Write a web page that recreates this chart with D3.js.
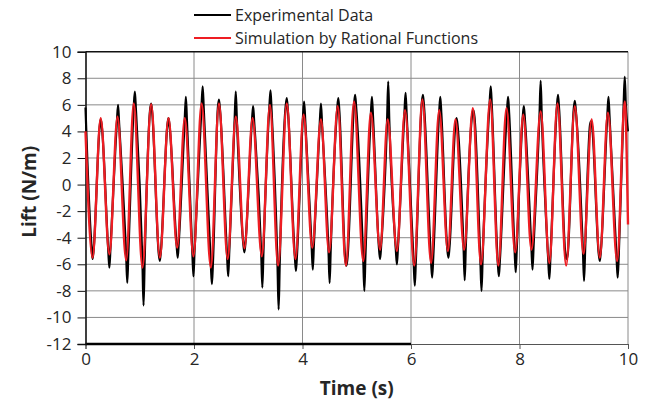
<!DOCTYPE html>
<html>
<head>
<meta charset="utf-8">
<script src="https://cdn.jsdelivr.net/npm/d3@7"></script>
<style>
  body { margin: 0; background: #fff; }
  text { font-family: "Open Sans", Lato, sans-serif; fill: #262626; }
</style>
</head>
<body>
<div id="viz"></div>
<script>
// axis ticks
const timeTicks = [0, 2, 4, 6, 8, 10];
const liftTicks = [-12, -10, -8, -6, -4, -2, 0, 2, 4, 6, 8, 10];

// simulation: extremes [time (s), lift (N/m)]
const simPoints = [
  [0.00, 4.0], [0.13, -5.5], [0.28, 5.0], [0.44, -5.25], [0.59, 5.1], [0.75, -5.7],
  [0.89, 6.1], [1.05, -6.25], [1.21, 6.05], [1.37, -5.5], [1.53, 5.0], [1.69, -4.75],
  [1.83, 5.0], [1.99, -5.4], [2.14, 6.1], [2.31, -6.25], [2.46, 6.1], [2.62, -5.6],
  [2.77, 5.1], [2.93, -4.8], [3.08, 5.0], [3.25, -5.4], [3.40, 6.0], [3.55, -6.1],
  [3.71, 6.1], [3.87, -5.6], [4.02, 5.25], [4.18, -4.75], [4.34, 4.9], [4.49, -5.1],
  [4.65, 5.9], [4.80, -6.1], [4.95, 6.25], [5.12, -5.75], [5.26, 5.4], [5.43, -4.9],
  [5.57, 4.9], [5.74, -5.0], [5.89, 5.6], [6.06, -6.1], [6.21, 6.4], [6.37, -5.9],
  [6.52, 5.6], [6.68, -5.0], [6.82, 4.9], [6.98, -4.9], [7.14, 5.75], [7.29, -6.0],
  [7.46, 6.4], [7.61, -6.1], [7.76, 5.75], [7.92, -5.1], [8.07, 5.25], [8.22, -4.9],
  [8.39, 5.5], [8.55, -5.9], [8.70, 6.1], [8.86, -6.1], [9.02, 5.9], [9.18, -5.2],
  [9.33, 4.9], [9.48, -5.5], [9.63, 5.4], [9.80, -5.75], [9.94, 6.25], [10.0, -3.0]
];

const expPoints = [
  [0.00, 5.8], [0.02, 3.4],
  [0.11, -4.6], [0.13, -5.6], [0.15, -4.9],
  [0.26, 4.3], [0.28, 4.9], [0.30, 4.4],
  [0.42, -5.0], [0.44, -6.25], [0.46, -4.8],
  [0.58, 4.8], [0.60, 6.0], [0.62, 4.6],
  [0.75, -5.4], [0.77, -7.4], [0.79, -5.2],
  [0.89, 5.9], [0.91, 7.0], [0.93, 5.6],
  [1.05, -6.0], [1.07, -9.1], [1.09, -5.8],
  [1.19, 5.6], [1.21, 6.1], [1.23, 5.4],
  [1.35, -5.2], [1.37, -5.75], [1.39, -5.0],
  [1.51, 4.5], [1.53, 5.0], [1.55, 4.4],
  [1.68, -4.6], [1.70, -5.5], [1.72, -4.3],
  [1.83, 5.0], [1.85, 6.6], [1.87, 4.8],
  [1.97, -5.2], [1.99, -6.9], [2.01, -5.0],
  [2.14, 6.0], [2.16, 7.4], [2.18, 5.7],
  [2.31, -6.0], [2.33, -7.5], [2.35, -5.8],
  [2.44, 5.8], [2.46, 6.4], [2.48, 5.6],
  [2.61, -5.4], [2.63, -6.9], [2.65, -5.1],
  [2.75, 5.0], [2.77, 7.0], [2.79, 4.9],
  [2.91, -4.5], [2.93, -5.1], [2.95, -4.3],
  [3.07, 4.9], [3.09, 5.9], [3.11, 4.7],
  [3.24, -5.3], [3.26, -7.75], [3.28, -5.1],
  [3.39, 5.9], [3.41, 7.1], [3.43, 5.6],
  [3.54, -6.2], [3.56, -9.4], [3.58, -6.0],
  [3.69, 5.9], [3.71, 6.5], [3.73, 5.6],
  [3.86, -5.5], [3.88, -6.5], [3.90, -5.2],
  [4.01, 5.2], [4.03, 6.25], [4.05, 4.9],
  [4.17, -4.8], [4.19, -6.4], [4.21, -4.5],
  [4.32, 4.8], [4.34, 6.1], [4.36, 4.6],
  [4.48, -5.1], [4.50, -7.4], [4.52, -4.9],
  [4.64, 5.7], [4.66, 6.5], [4.68, 5.5],
  [4.79, -5.7], [4.81, -6.1], [4.83, -5.5],
  [4.95, 6.0], [4.97, 6.75], [4.99, 5.8],
  [5.12, -5.7], [5.14, -8.0], [5.16, -5.4],
  [5.26, 5.3], [5.28, 6.6], [5.30, 5.1],
  [5.41, -4.8], [5.43, -5.6], [5.45, -4.6],
  [5.56, 5.0], [5.58, 7.75], [5.60, 4.8],
  [5.72, -4.9], [5.74, -6.0], [5.76, -4.7],
  [5.88, 5.5], [5.90, 6.9], [5.92, 5.3],
  [6.05, -6.0], [6.07, -7.6], [6.09, -5.7],
  [6.20, 6.2], [6.22, 6.75], [6.24, 5.9],
  [6.37, -5.8], [6.39, -7.0], [6.41, -5.5],
  [6.52, 5.5], [6.54, 6.6], [6.56, 5.3],
  [6.67, -4.9], [6.69, -5.5], [6.71, -4.7],
  [6.82, 4.6], [6.84, 5.0], [6.86, 4.4],
  [6.97, -4.9], [6.99, -7.2], [7.01, -4.7],
  [7.13, 5.3], [7.15, 5.6], [7.17, 5.1],
  [7.28, -5.9], [7.30, -8.0], [7.32, -5.6],
  [7.45, 6.2], [7.47, 7.4], [7.49, 5.9],
  [7.60, -5.9], [7.62, -6.9], [7.64, -5.6],
  [7.77, 5.6], [7.79, 6.6], [7.81, 5.3],
  [7.91, -5.0], [7.93, -6.6], [7.95, -4.8],
  [8.06, 5.1], [8.08, 5.9], [8.10, 4.9],
  [8.22, -4.8], [8.24, -6.4], [8.26, -4.6],
  [8.37, 5.4], [8.39, 7.8], [8.41, 5.2],
  [8.53, -5.7], [8.55, -7.1], [8.57, -5.5],
  [8.69, 5.9], [8.71, 6.75], [8.73, 5.7],
  [8.85, -5.4], [8.87, -5.6], [8.89, -5.2],
  [9.00, 5.7], [9.02, 6.3], [9.04, 5.5],
  [9.17, -5.1], [9.19, -7.25], [9.21, -4.9],
  [9.30, 4.5], [9.32, 4.75], [9.34, 4.3],
  [9.46, -5.2], [9.48, -5.75], [9.50, -5.0],
  [9.62, 5.3], [9.64, 6.6], [9.66, 5.1],
  [9.79, -5.6], [9.81, -7.0], [9.83, -5.3],
  [9.92, 6.1], [9.94, 8.1], [9.96, 6.0],
  [10.0, 4.0]
];

const seriesNames = ["Experimental Data", "Simulation by Rational Functions"];
const seriesColors = ["#000000", "#ee1d23"];

const W = 653, H = 403;
const margin = {left: 85.5, right: 25, top: 51.7, bottom: 59};
const width = W - margin.left - margin.right;
const height = H - margin.top - margin.bottom;

let svg = d3.select("#viz")
  .append("svg")
    .attr("width", W)
    .attr("height", H);

let g = svg.append("g")
  .attr("transform", "translate(" + margin.left + "," + margin.top + ")");

let xScale = d3.scaleLinear().domain([0, 10]).range([0, width]);
let yScale = d3.scaleLinear().domain([-12, 10]).range([height, 0]);

// gridlines
g.append("g")
  .selectAll("line")
  .data(liftTicks.filter(d => d > -12 && d < 10))
  .join("line")
    .attr("x1", 0).attr("x2", width)
    .attr("y1", d => yScale(d)).attr("y2", d => yScale(d))
    .attr("stroke", "#8a8a8a").attr("stroke-width", 1);
g.append("g")
  .selectAll("line")
  .data(timeTicks.filter(d => d > 0))
  .join("line")
    .attr("x1", d => xScale(d)).attr("x2", d => xScale(d))
    .attr("y1", 0).attr("y2", height)
    .attr("stroke", "#8a8a8a").attr("stroke-width", 1);

// top border
g.append("line")
  .attr("x1", 0).attr("x2", width)
  .attr("y1", yScale(10)).attr("y2", yScale(10))
  .attr("stroke", "#111").attr("stroke-width", 1.6);

// X axis
let xAxisG = g.append("g")
  .attr("transform", "translate(0," + height + ")")
  .call(d3.axisBottom(xScale).tickValues(timeTicks).tickSize(5).tickPadding(4));
xAxisG.select(".domain").attr("stroke", "#555");
xAxisG.selectAll(".tick line").attr("stroke", "#555");
xAxisG.selectAll("text").style("font-size", "17px").attr("fill", "#262626");

// thick black segment along the bottom of the plot
g.append("line")
  .attr("x1", xScale(0)).attr("x2", xScale(6))
  .attr("y1", yScale(-12)).attr("y2", yScale(-12))
  .attr("stroke", "#000").attr("stroke-width", 2.5);

// Y axis (plain hyphen for negatives, as in the original)
let yAxisG = g.append("g")
  .call(d3.axisLeft(yScale).tickValues(liftTicks).tickFormat(d => String(d))
    .tickSize(8).tickPadding(6));
yAxisG.select(".domain").attr("stroke", "#111").attr("stroke-width", 1.6);
yAxisG.selectAll(".tick line").attr("stroke", "#111");
yAxisG.selectAll("text").style("font-size", "17px").attr("fill", "#262626");

// lines
let line = d3.line()
  .x(d => xScale(d[0]))
  .y(d => yScale(d[1]))
  .curve(d3.curveMonotoneX);

g.append("path")
  .datum(expPoints)
  .attr("fill", "none")
  .attr("stroke", seriesColors[0])
  .attr("stroke-width", 2.2)
  .attr("d", line);

g.append("path")
  .datum(simPoints)
  .attr("fill", "none")
  .attr("stroke", seriesColors[1])
  .attr("stroke-width", 2.4)
  .attr("d", line);

// axis labels
svg.append("text")
  .attr("x", margin.left + width / 2)
  .attr("y", 395)
  .attr("text-anchor", "middle")
  .style("font-size", "19px")
  .style("font-weight", "bold")
  .text("Time (s)");

svg.append("text")
  .attr("transform", "translate(36," + (margin.top + height / 2 - 6) + ") rotate(-90)")
  .attr("text-anchor", "middle")
  .style("font-size", "19px")
  .style("font-weight", "bold")
  .text("Lift (N/m)");

// legend
let legend = svg.append("g")
  .selectAll("g")
  .data(seriesNames)
  .join("g")
    .attr("transform", (d, i) => "translate(194," + (15 + i * 23) + ")");
legend.append("line")
  .attr("x1", 0).attr("x2", 37)
  .attr("stroke", (d, i) => seriesColors[i])
  .attr("stroke-width", 2);
legend.append("text")
  .attr("x", 41)
  .attr("dy", "0.35em")
  .style("font-size", "16px")
  .text(d => d);
</script>
</body>
</html>
